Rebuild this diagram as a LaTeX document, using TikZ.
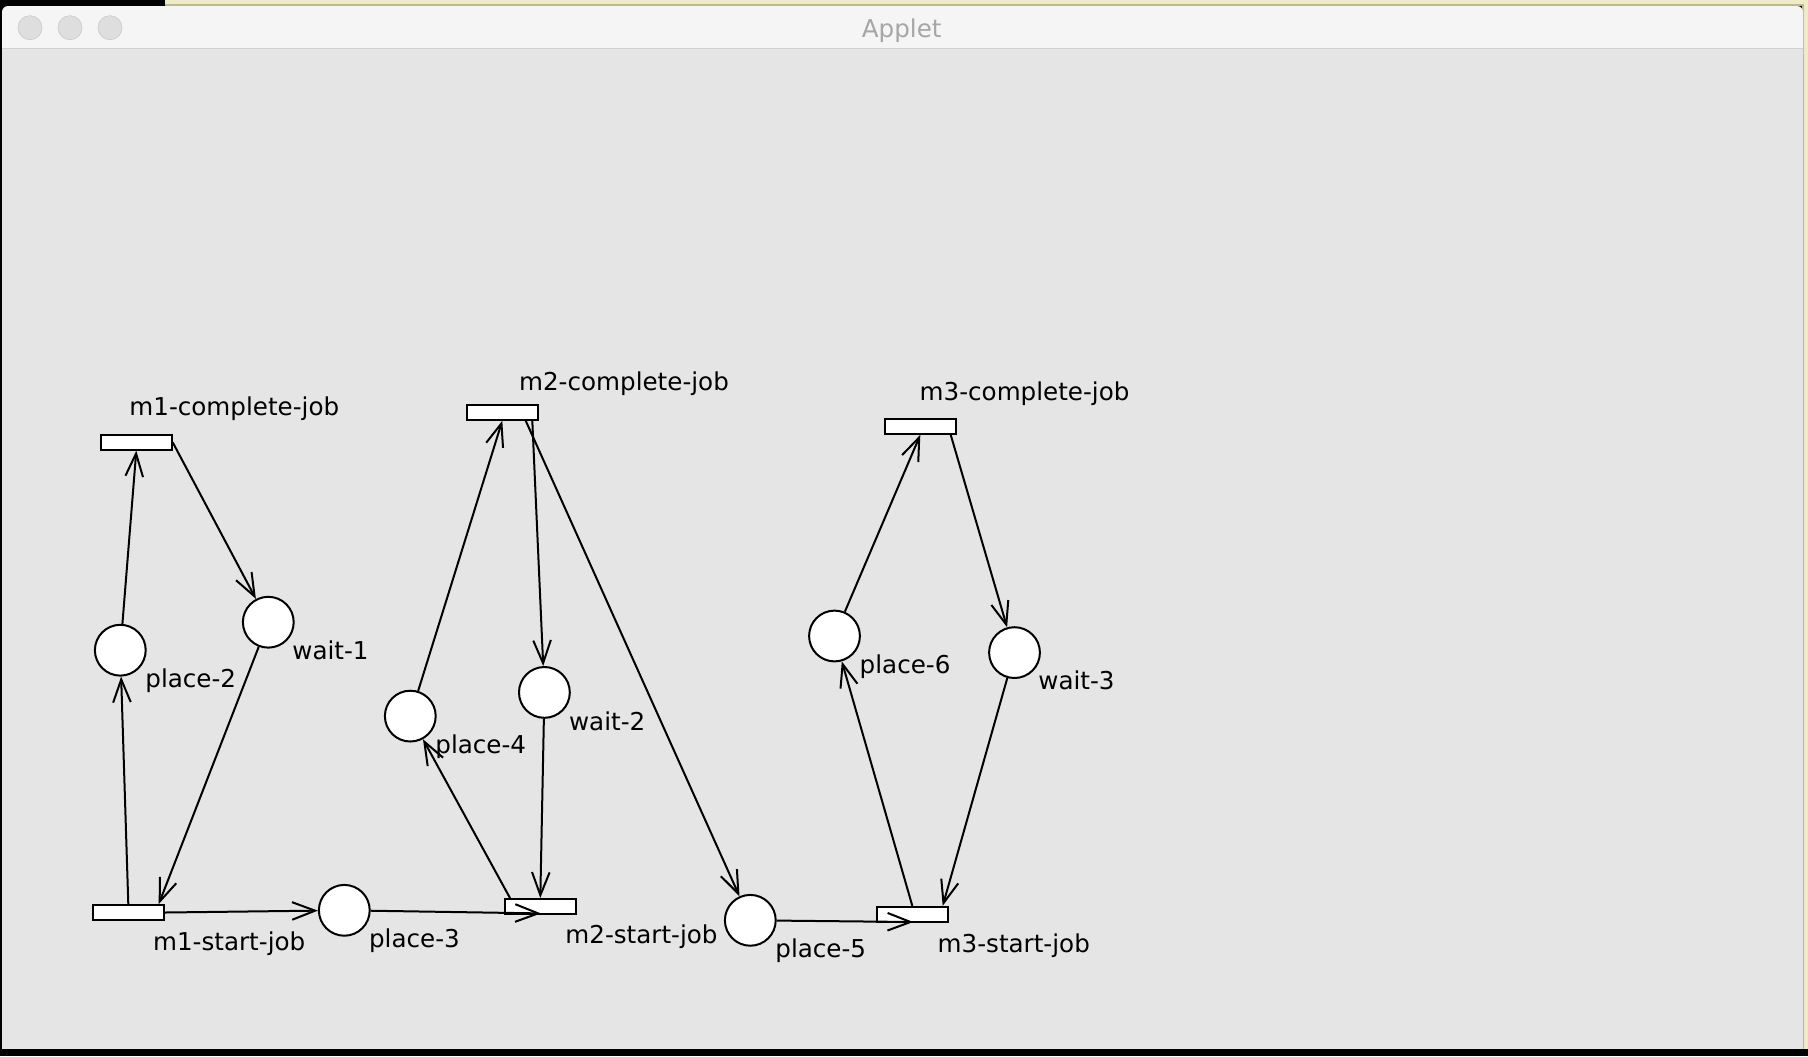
\documentclass[tikz,border=0pt]{standalone}
\usepackage{fontspec}
\setmainfont{DejaVu Sans}
\usetikzlibrary{arrows.meta,calc}
\definecolor{contentbg}{HTML}{E5E5E5}
\definecolor{titlebg}{HTML}{F5F5F5}
\definecolor{sepline}{HTML}{D1D1D1}
\definecolor{deskyellow}{HTML}{EEEBC6}
\definecolor{deskolive}{HTML}{BDB890}
\definecolor{btnfill}{HTML}{DEDEDE}
\definecolor{btnline}{HTML}{CFCFCF}
\definecolor{titletext}{HTML}{A6A6A6}
\begin{document}
\begin{tikzpicture}[x=0.5pt,y=-0.5pt,
  pnplace/.style={circle,draw=black,fill=white,line width=1pt,minimum size=25.4pt,inner sep=0pt},
  pntrans/.style={rectangle,draw=black,fill=white,line width=1pt,minimum width=35.4pt,minimum height=7.4pt,inner sep=0pt},
  pnlabel/.style={anchor=base west,inner sep=0pt,font=\fontsize{12.3pt}{14pt}\selectfont},
  pnarc/.style={line width=1pt,-{Straight Barb[length=11.5pt,width=8.8pt]}},
  btn/.style={circle,fill=btnfill,draw=btnline,line width=0.4pt,minimum size=12pt,inner sep=0pt}
]
\useasboundingbox (0,0) rectangle (1808,1056);
% desktop / window chrome
\fill[black] (0,0) rectangle (1808,1056);
\fill[deskyellow] (165,0) rectangle (1808,6);
\fill[deskyellow] (1803,0) rectangle (1808,1049.3);
\draw[deskolive,line width=0.6pt] (165,5) -- (1803,5) -- (1803,1049.3);
\fill[titlebg,rounded corners=3pt] (2,60) -- (2,6) -- (1803,6) -- (1803,60) -- cycle;
\fill[contentbg] (2,48.7) rectangle (1803,1049.3);
\draw[sepline,line width=0.6pt] (2,48.7) -- (1803,48.7);
\node[btn] (b1) at (30,27.7) {};
\node[btn] (b2) at (70,27.7) {};
\node[btn] (b3) at (110,27.7) {};
\node[anchor=base,inner sep=0pt,text=titletext,font=\fontsize{12.3pt}{14pt}\selectfont] (title) at (901.7,37.7) {Applet};

% transitions
\node[pntrans] (m1c) at (136.3,442.3) {};
\node[pntrans] (m2c) at (502.3,412.3) {};
\node[pntrans] (m3c) at (920.3,426.4) {};
\node[pntrans] (m1s) at (128.3,912.5) {};
\node[pntrans] (m2s) at (540.3,906.4) {};
\node[pntrans] (m3s) at (912.3,914.2) {};
% places
\node[pnplace] (p2) at (120.3,650.2) {};
\node[pnplace] (w1) at (268.3,622.2) {};
\node[pnplace] (p3) at (344.3,910.3) {};
\node[pnplace] (p4) at (410.3,716.1) {};
\node[pnplace] (w2) at (544.4,692.4) {};
\node[pnplace] (p5) at (750.3,920.3) {};
\node[pnplace] (p6) at (834.5,636) {};
\node[pnplace] (w3) at (1014.5,652.6) {};

% labels
\node[pnlabel] (t-m1c) at (129,415.5) {m1-complete-job};
\node[pnlabel] (t-m2c) at (518.7,390) {m2-complete-job};
\node[pnlabel] (t-m3c) at (919.3,400.7) {m3-complete-job};
\node[pnlabel] (t-p2) at (145,687.3) {place-2};
\node[pnlabel] (t-w1) at (292,659.3) {wait-1};
\node[pnlabel] (t-p4) at (435,753.3) {place-4};
\node[pnlabel] (t-w2) at (568.7,730) {wait-2};
\node[pnlabel] (t-p6) at (859.3,673.3) {place-6};
\node[pnlabel] (t-w3) at (1038,689.3) {wait-3};
\node[pnlabel] (t-m1s) at (152.7,950) {m1-start-job};
\node[pnlabel] (t-p3) at (368.7,947) {place-3};
\node[pnlabel] (t-m2s) at (565,943.3) {m2-start-job};
\node[pnlabel] (t-p5) at (775,957.7) {place-5};
\node[pnlabel] (t-m3s) at (937.3,952) {m3-start-job};

% arcs
\draw[pnarc] (m1s.north) -- (p2);
\draw[pnarc] (p2) -- (m1c.south);
\draw[pnarc] (m1c.east) -- (w1);
\draw[pnarc] (w1) -- ($(m1s.north)+(30.4,0)$);
\draw[pnarc] (m1s.east) -- (p3);
\draw[pnarc] (p3) -- ($(m2s.center)+(0.7,7)$);
\draw[pnarc] ($(m2s.north)+(-30.3,0)$) -- (p4);
\draw[pnarc] (p4) -- (m2c.south);
\draw[pnarc] ($(m2c.south)+(30,0)$) -- (w2);
\draw[pnarc] ($(m2c.south)+(23.4,0)$) -- (p5);
\draw[pnarc] (w2) -- (m2s.north);
\draw[pnarc] (p5) -- ($(m3s.center)+(1,7.8)$);
\draw[pnarc] (m3s.north) -- (p6);
\draw[pnarc] (p6) -- (m3c.south);
\draw[pnarc] ($(m3c.south)+(30.4,0)$) -- (w3);
\draw[pnarc] (w3) -- ($(m3s.north)+(30.4,0)$);
\end{tikzpicture}
\end{document}
